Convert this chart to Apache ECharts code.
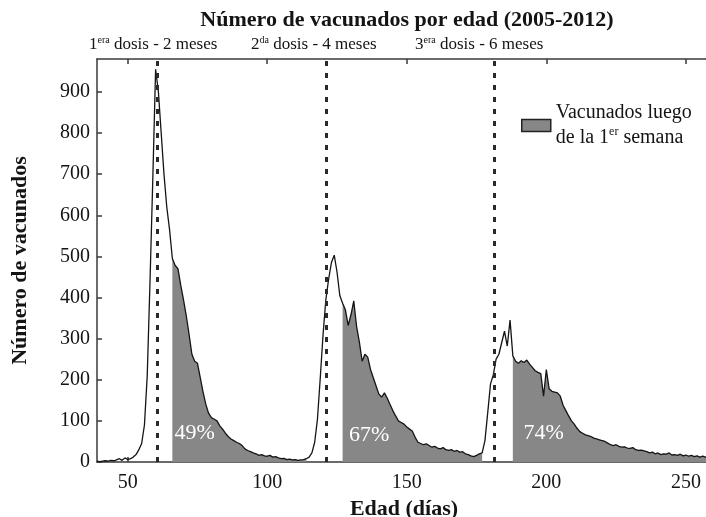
<!DOCTYPE html>
<html>
<head>
<meta charset="utf-8">
<script src="https://cdn.jsdelivr.net/npm/echarts@6/dist/echarts.min.js"></script>
<style>html,body{margin:0;background:#fff}#chart{width:706px;height:517px}</style>
</head>
<body>
<div id="chart"></div>
<script>
// número de vacunados por día de edad, desde el día 39
const diaInicial = 39;
const conteos = [
  2, 1, 2, 3, 2, 4, 3, 5, 8, 4,
  10, 6, 8, 12, 18, 30, 45, 90, 210, 440,
  690, 955, 900, 800, 700, 620, 565, 495, 478, 470,
  430, 394, 355, 310, 262, 245, 240, 205, 170, 140,
  118, 108, 104, 100, 88, 80, 70, 62, 56, 52,
  48, 45, 40, 32, 28, 25, 22, 20, 16, 18,
  15, 14, 16, 12, 13, 10, 8, 9, 6, 7,
  5, 6, 4, 5, 6, 8, 12, 22, 48, 105,
  205, 310, 395, 445, 485, 503, 462, 405, 386, 370,
  332, 358, 392, 330, 292, 245, 262, 255, 225, 205,
  185, 165, 158, 168, 155, 140, 125, 112, 100, 96,
  92, 85, 80, 75, 60, 48, 45, 42, 44, 40,
  36, 38, 34, 32, 35, 30, 28, 30, 26, 28,
  24, 25, 20, 18, 15, 13, 16, 20, 22, 52,
  120, 190, 212, 250, 262, 290, 318, 282, 345, 258,
  245, 240, 246, 242, 248, 238, 230, 222, 218, 215,
  160, 225, 178, 172, 170, 168, 160, 138, 125, 112,
  100, 92, 82, 74, 70, 66, 64, 62, 58, 56,
  54, 52, 50, 46, 42, 40, 42, 38, 36, 37,
  34, 33, 35, 30, 28, 29, 27, 25, 22, 24,
  20, 22, 18, 20, 19, 22, 17, 18, 16, 19,
  15, 17, 14, 16, 13, 15, 12, 14, 12, 13, 11
];
const dosis = [60.5, 121, 181.5];
const inicioSombra = [66, 127, 188];
const finSombra = [114, 177, 259];
const porcentajes = ['49%', '67%', '74%'];
const posPorcentaje = [[74, 70], [136.5, 66], [199, 70]];
const ticksX = [50, 100, 150, 200, 250];
const ticksY = [0, 100, 200, 300, 400, 500, 600, 700, 800, 900];
const etiquetasDosis = [
  ['1', 'era', ' dosis - 2 meses'],
  ['2', 'da', ' dosis - 4 meses'],
  ['3', 'era', ' dosis - 6 meses']
];
const nombreSombra = 'Vacunados luego de la 1er semana';

const serif = 'Liberation Serif';
const negro = '#141414';
const marco = { color: '#3a3a3a', width: 1.5 };

const curva = conteos.map((v, i) => [diaInicial + i, v]);
const sombra = curva.map(([d, v]) => {
  const dentro = inicioSombra.some((ini, k) => d >= ini && d <= finSombra[k]);
  return dentro ? [d, v] : [d, '-'];
});

const chart = echarts.init(document.getElementById('chart'));

function ejeX(pos, principal) {
  return {
    type: 'value', min: 39, max: 259, position: pos,
    axisLine: { show: true, onZero: false, lineStyle: marco },
    axisTick: { show: true, inside: true, length: 5, customValues: ticksX, lineStyle: marco },
    axisLabel: {
      show: principal, customValues: ticksX, margin: 11,
      fontFamily: serif, fontSize: 20, color: negro
    },
    splitLine: { show: false },
    name: principal ? 'Edad (días)' : '',
    nameLocation: 'middle', nameGap: 33,
    nameTextStyle: { fontFamily: serif, fontSize: 22, fontWeight: 'bold', color: negro }
  };
}

function ejeY(pos, principal) {
  return {
    type: 'value', min: 0, max: 980, position: pos,
    axisLine: { show: true, onZero: false, lineStyle: marco },
    axisTick: { show: true, inside: true, length: 5, customValues: ticksY, lineStyle: marco },
    axisLabel: {
      show: principal, customValues: ticksY, margin: 7,
      fontFamily: serif, fontSize: 20, color: negro
    },
    splitLine: { show: false },
    name: principal ? 'Número de vacunados' : '',
    nameLocation: 'middle', nameGap: 66,
    nameTextStyle: { fontFamily: serif, fontSize: 22, fontWeight: 'bold', color: negro }
  };
}

const option = {
  animation: false,
  title: {
    text: 'Número de vacunados por edad (2005-2012)',
    left: 407, top: 9, textAlign: 'center', padding: 0,
    textStyle: { fontFamily: serif, fontSize: 22, fontWeight: 'bold', color: negro }
  },
  legend: {
    left: 521, top: 103, padding: 0,
    itemWidth: 29, itemHeight: 12,
    data: [{
      name: nombreSombra, icon: 'rect',
      itemStyle: { color: '#878787', borderColor: '#222', borderWidth: 1.5 }
    }],
    formatter: () => '{a|Vacunados luego}\n{a|de la 1}{s|er}{a| semana}',
    textStyle: {
      fontFamily: serif, fontSize: 20, color: negro,
      rich: {
        a: { fontFamily: serif, fontSize: 20, lineHeight: 25, color: negro },
        s: { fontFamily: serif, fontSize: 12, verticalAlign: 'top', color: negro }
      }
    }
  },
  grid: { left: 97, top: 59, width: 614, height: 403, outerBoundsMode: 'none' },
  xAxis: [ejeX('bottom', true), ejeX('top', false)],
  yAxis: [ejeY('left', true), ejeY('right', false)],
  graphic: etiquetasDosis.map((e, i) => ({
    type: 'text',
    left: [89, 251, 415][i],
    top: 35,
    style: {
      text: '{n|' + e[0] + '}{s|' + e[1] + '}{n|' + e[2] + '}',
      fill: negro,
      rich: {
        n: { fontFamily: serif, fontSize: 17, lineHeight: 19 },
        s: { fontFamily: serif, fontSize: 10, verticalAlign: 'top' }
      }
    }
  })),
  series: [
    {
      name: nombreSombra,
      type: 'line',
      data: sombra,
      showSymbol: false,
      lineStyle: { width: 0 },
      areaStyle: { color: '#878787', opacity: 1 },
      emphasis: { disabled: true },
      z: 1,
      markPoint: {
        symbol: 'circle', symbolSize: 1,
        itemStyle: { color: 'transparent' },
        label: {
          show: true, position: 'inside', formatter: p => p.name,
          color: '#fff', fontFamily: serif, fontSize: 22
        },
        data: porcentajes.map((t, i) => ({ name: t, coord: posPorcentaje[i] }))
      }
    },
    {
      name: 'Vacunados',
      type: 'line',
      data: curva,
      showSymbol: false,
      lineStyle: { color: negro, width: 1.3 },
      emphasis: { disabled: true },
      z: 3,
      markLine: {
        silent: true,
        symbol: ['none', 'none'],
        label: { show: false },
        lineStyle: { color: '#2a2a2a', type: [5, 7], width: 3 },
        data: dosis.map(d => ({ xAxis: d }))
      }
    }
  ]
};

chart.setOption(option);
</script>
</body>
</html>
